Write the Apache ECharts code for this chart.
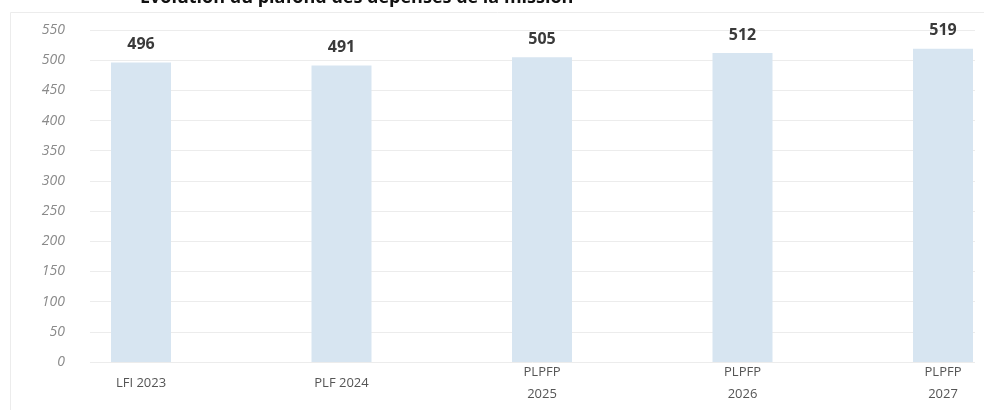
<!DOCTYPE html>
<html>
<head>
<meta charset="utf-8">
<script src="https://cdn.jsdelivr.net/npm/echarts@6/dist/echarts.min.js"></script>
<style>
  html, body { margin: 0; padding: 0; background: #fff; }
  #chart { width: 984px; height: 410px; }
</style>
</head>
<body>
<div id="chart"></div>
<script>
// categories and values
var categories = ['LFI 2023', 'PLF 2024', 'PLPFP\n2025', 'PLPFP\n2026', 'PLPFP\n2027'];
var values = [496, 491, 505, 512, 519];
var yTicks = [0, 50, 100, 150, 200, 250, 300, 350, 400, 450, 500, 550];

var chart = echarts.init(document.getElementById('chart'));

var option = {
    backgroundColor: '#fff',
    animation: false,
    graphic: [
        // faint frame of the original figure
        { type: 'rect', left: 8, top: 10, shape: { width: 990, height: 420 },
          style: { fill: 'none', stroke: '#ececec', lineWidth: 1 } },
        // title, cut off at the top in the reference
        { type: 'text', left: 140, top: -11,
          style: { text: 'Évolution du plafond des dépenses de la mission', fill: '#111',
                   font: 'bold 18px "Open Sans"' } }
    ],
    grid: [
        { left: 90, right: 9, top: 30, bottom: 48 },
        // bars: first and last category centres sit at the grid edges
        { left: 141, right: 41, top: 30, bottom: 48 }
    ],
    xAxis: [
        { gridIndex: 0, type: 'category', data: categories, show: false },
        {
            gridIndex: 1, type: 'category', data: categories, boundaryGap: false,
            axisLine: { show: false }, axisTick: { show: false },
            axisLabel: {
                color: '#555', fontFamily: 'Open Sans', fontSize: 13,
                verticalAlign: 'middle', margin: 21, lineHeight: 22,
                showMinLabel: true, showMaxLabel: true, interval: 0
            }
        }
    ],
    yAxis: [
        {
            gridIndex: 0, type: 'value', min: 0, max: yTicks[yTicks.length - 1], interval: 50,
            axisLine: { show: false }, axisTick: { show: false },
            axisLabel: {
                color: '#8a8a8a', fontFamily: 'Open Sans', fontStyle: 'italic',
                fontSize: 14, margin: 25
            },
            splitLine: { lineStyle: { color: '#ececec', width: 1 } }
        },
        { gridIndex: 1, type: 'value', min: 0, max: 550, show: false }
    ],
    series: [{
        type: 'bar',
        xAxisIndex: 1, yAxisIndex: 1,
        data: values,
        barWidth: 60,
        clip: false,
        itemStyle: { color: '#d7e5f1' },
        label: {
            show: true, position: 'top', distance: 10,
            color: '#3a3a3a', fontFamily: 'Open Sans', fontWeight: 'bold', fontSize: 16
        }
    }]
};

chart.setOption(option);
</script>
</body>
</html>
